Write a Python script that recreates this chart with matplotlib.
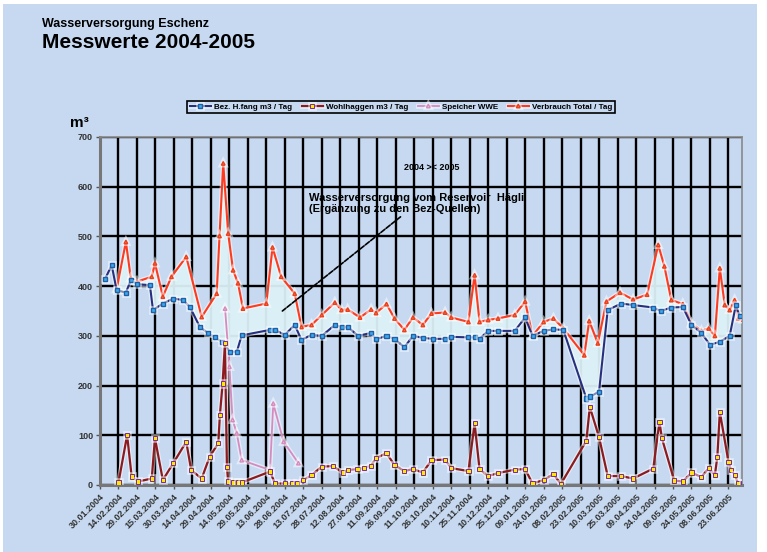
import numpy as np
import matplotlib
matplotlib.use("Agg")
import matplotlib.pyplot as plt
import matplotlib.patheffects as pe
from matplotlib.patches import Rectangle

# ---- data (x = days since 30.01.2004) ----
bez_x = [4, 9.5, 13.5, 21, 25, 30, 40.5, 43, 51, 59.5, 67.5, 73, 81, 88, 93, 98.7, 105.5, 111, 115,
         138, 142, 150, 158, 163.5, 171.7, 180, 190.6, 196, 201, 209.5, 220, 224, 232.5, 239, 247,
         254, 262, 270, 280, 285, 299, 304, 308, 315, 323, 336.6, 345, 351, 360, 368, 376, 394.7,
         398, 405, 412, 423, 432.6, 449, 455, 463.6, 473, 480, 488, 495, 503, 511, 516, 519]
bez_y = [414, 442, 392, 387, 412, 404, 402, 352, 365, 375, 372, 358, 318, 305, 298, 288, 268, 268, 301,
         312, 312, 302, 322, 292, 302, 300, 322, 318, 318, 300, 306, 293, 300, 294, 277,
         300, 296, 294, 294, 298, 297, 297, 294, 310, 310, 310, 337, 300, 310, 313, 312, 174,
         178, 188, 352, 365, 362, 357, 350, 357, 358, 322, 306, 282, 288, 300, 362, 340]

tot_x = [13.5, 21, 25, 30, 42, 44.6, 51, 58, 70, 82.5, 94.7, 97, 100, 104, 108, 112, 116, 135, 140,
         147, 158, 163.5, 171.7, 180, 190.6, 196, 201, 211, 220, 224, 232.5, 239, 247, 254, 262, 269,
         280, 285, 299, 304, 308, 315, 323, 336.6, 345, 351, 360, 368, 376, 393, 397, 404, 411, 422,
         432.6, 444, 453, 458, 463.6, 473, 480, 488, 494, 499, 503, 507, 511, 515, 518, 522]
tot_y = [394, 489, 416, 409, 419, 446, 379, 419, 459, 338, 385, 501, 647, 506, 432, 406, 355, 365, 478,
         419, 385, 318, 322, 342, 367, 352, 353, 337, 353, 346, 364, 335, 312, 337, 322, 345,
         347, 337, 328, 422, 328, 332, 335, 342, 369, 300, 328, 335, 315, 261, 330, 285, 369, 387,
         373, 383, 483, 440, 372, 364, 325, 310, 315, 300, 436, 362, 352, 372, 335, 333]

wohl_x = [15, 22, 25.7, 31, 42, 44.6, 51, 59.5, 70, 74, 82.5, 89, 96, 97.3, 99.5, 101.4, 103, 104, 108,
          112, 115, 138, 142, 150, 156, 160, 165, 171.7, 180, 189, 197, 201, 209, 214, 220, 224, 232.5,
          239, 247, 254, 262, 269, 280, 285, 299, 304, 308, 315, 323, 337, 345, 351, 360, 368, 374,
          394.7, 397.5, 405, 412, 423, 432.6, 449, 454, 456, 466, 473, 480, 488, 494, 499, 501, 503,
          510, 512, 515, 518, 522]
wohl_y = [5, 100, 17, 7, 13, 94, 10, 44, 87, 30, 13, 57, 84, 141, 204, 285, 37, 7, 5,
          5, 5, 27, 3, 3, 3, 3, 10, 20, 37, 38, 25, 30, 32, 34, 39, 54, 64,
          40, 28, 32, 25, 50, 51, 34, 28, 124, 32, 18, 24, 31, 32, 3, 10, 22, 2,
          89, 157, 96, 18, 18, 13, 33, 127, 94, 9, 7, 25, 16, 34, 20, 57, 147,
          47, 31, 20, 3, 3]

spe_x = [101.5, 105, 107.6, 111, 115, 138, 140.6, 149, 161]
spe_y = [355, 238, 131, 104, 50, 30, 164, 87, 44]

tick_days = list(range(0, 511, 15))
tick_labels = ["30.01.2004", "14.02.2004", "29.02.2004", "15.03.2004", "30.03.2004", "14.04.2004",
               "29.04.2004", "14.05.2004", "29.05.2004", "13.06.2004", "28.06.2004", "13.07.2004",
               "28.07.2004", "12.08.2004", "27.08.2004", "11.09.2004", "26.09.2004", "11.10.2004",
               "26.10.2004", "10.11.2004", "25.11.2004", "10.12.2004", "25.12.2004", "09.01.2005",
               "24.01.2005", "08.02.2005", "23.02.2005", "10.03.2005", "25.03.2005", "09.04.2005",
               "24.04.2005", "09.05.2005", "24.05.2005", "08.06.2005", "23.06.2005"]

legend_labels = ["Bez. H.fang m3 / Tag", "Wohlhaggen m3 / Tag", "Speicher WWE", "Verbrauch Total / Tag"]

BG = "#C6D9F1"
plt.rcParams['font.family'] = ['Liberation Sans', 'DejaVu Sans']

fig = plt.figure(figsize=(7.67, 5.52), dpi=100, facecolor="white")
fig.patches.append(Rectangle((3/767, 0), 754/767, 1 - 4/552, transform=fig.transFigure,
                             facecolor=BG, edgecolor="none", zorder=-10))
ax = fig.add_axes([100/767, 1 - 485/552, 642/767, 348/552])
ax.set_facecolor(BG)

halo = [pe.withStroke(linewidth=3.4, foreground="white", alpha=0.5)]

# fill between Bez and total
grid_x = np.union1d(np.array(bez_x), np.array(tot_x))
grid_x = grid_x[(grid_x >= tot_x[0]) & (grid_x <= bez_x[-1])]
fb = np.interp(grid_x, bez_x, bez_y)
ft = np.interp(grid_x, tot_x, tot_y)
ax.fill_between(grid_x, fb, ft, color="#DDF1F7", alpha=0.95, zorder=2, linewidth=0)

ax.plot(tot_x, tot_y, color="#FF3A1E", lw=1.5, marker="^", ms=2.6, mfc="#FF7A50", mec="#E8401E",
        zorder=4, label=legend_labels[3], path_effects=halo)
ax.plot(bez_x, bez_y, color="#26307E", lw=1.5, marker="s", ms=2.9, mfc="#3FAAE8", mec="#1E5FA8",
        zorder=5, label=legend_labels[0], path_effects=halo)
ax.plot(spe_x, spe_y, color="#D58BC0", lw=1.3, marker="^", ms=2.6, mfc="#F4C8E0", mec="#D58BC0",
        zorder=4, label=legend_labels[2], path_effects=halo)
ax.plot(wohl_x, wohl_y, color="#8C1A1E", lw=1.6, marker="s", ms=3.0, mfc="#FFE800", mec="#7A2A8E",
        mew=0.7, zorder=6, label=legend_labels[1], path_effects=halo)

ax.set_xlim(0, 521)
ax.set_ylim(0, 700)
ax.set_yticks(range(0, 701, 100))
ax.set_yticklabels([str(v) for v in range(0, 701, 100)], fontsize=6.5, fontweight="bold", color="#333333")
ax.set_xticks(tick_days)
ax.set_xticklabels(tick_labels, rotation=45, ha="right", rotation_mode="anchor",
                   fontsize=6.5, fontweight="bold", color="#333333")
ax.tick_params(axis="both", length=3, width=1, color="#555555", pad=2)
ax.grid(True, color="black", lw=1.7, zorder=1)
ax.set_axisbelow(True)
for s in ["left", "bottom"]:
    ax.spines[s].set_color("#777777")
    ax.spines[s].set_linewidth(2.2)
for s in ["top", "right"]:
    ax.spines[s].set_color("#888888")
    ax.spines[s].set_linewidth(1.2)

# legend
h, l = ax.get_legend_handles_labels()
order = [l.index(t) for t in legend_labels]
leg = fig.legend([h[i] for i in order], [l[i] for i in order], loc="center",
                 bbox_to_anchor=(401/767, 1 - 107/552), ncol=4,
                 prop={"weight": "bold", "size": 5.8},
                 frameon=True, fancybox=False, edgecolor="black", facecolor=BG, framealpha=1,
                 handlelength=2.6, columnspacing=1.2, handletextpad=0.4, borderpad=0.3)
leg.get_frame().set_linewidth(1.2)

# texts
fig.text(42/767, 1 - 24/552, "Wasserversorgung Eschenz", fontsize=9, fontweight="bold",
         ha="left", va="center")
fig.text(42/767, 1 - 43/552, "Messwerte 2004-2005", fontsize=15, fontweight="bold",
         ha="left", va="center")
fig.text(70/767, 1 - 123/552, "m³", fontsize=11, fontweight="bold", ha="left", va="center")

ax.text(269, 638, "2004 >< 2005", fontsize=6.5, fontweight="bold", ha="center", va="center", zorder=7)
ax.annotate("Wasserversorgung vom Reservoir  Hägli\n(Ergänzung zu den Bez-Quellen)",
            xy=(148, 350), xytext=(170, 545), fontsize=8, fontweight="bold", ha="left", va="bottom",
            linespacing=1.1, zorder=7,
            arrowprops=dict(arrowstyle="-", color="black", lw=1.2, ls=(0, (3, 1)),
                            shrinkA=0, shrinkB=0))

fig.savefig("out.png", dpi=100, facecolor=fig.get_facecolor())
